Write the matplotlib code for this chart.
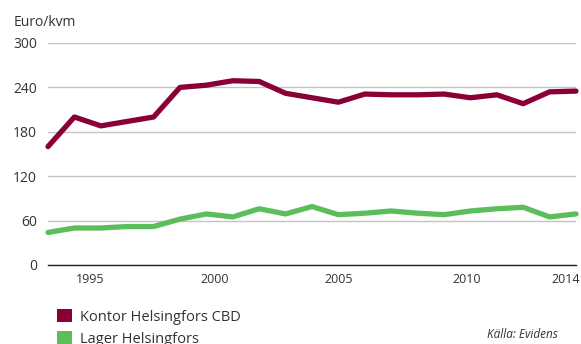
import matplotlib
matplotlib.use("Agg")
import matplotlib.pyplot as plt
from matplotlib.patches import Patch

plt.rcParams['font.family'] = ['Open Sans', 'DejaVu Sans']

# hyresnivåer, euro per kvm och år
years = list(range(1994, 2015))
kontor = [160, 200, 188, 194, 200, 240, 243, 249, 248, 232, 226, 220, 231, 230, 230, 231,
          226, 230, 218, 234, 235]
lager = [44, 50, 50, 52, 52, 62, 69, 65, 76, 69, 79, 68, 70, 73, 70, 68, 73, 76, 78, 65, 69]

series_names = ["Kontor Helsingfors CBD", "Lager Helsingfors"]
series_colors = ["#8a0036", "#5cbe5a"]

y_ticks = [0, 60, 120, 180, 240, 300]
x_labels = ["1995", "2000", "2005", "2010", "2014"]
x_label_pos = [1995.6, 2000.3, 2005.0, 2009.85, 2013.6]

txt = "#333333"

fig = plt.figure(figsize=(5.81, 3.44), dpi=100)
ax = fig.add_axes([48 / 581, 1 - 265 / 344, 528 / 581, 222 / 344])

for vals, c in zip([kontor, lager], series_colors):
    ax.plot(years, vals, color=c, lw=3.8, solid_capstyle="round",
            solid_joinstyle="round", zorder=3, clip_on=False)

ax.set_xlim(1994, 2014)
ax.set_ylim(0, 300)
ax.set_yticks(y_ticks)
ax.set_yticklabels([str(v) for v in y_ticks], fontsize=10, color=txt)
ax.yaxis.grid(True, color="#c4c4c4", lw=1.0)
ax.set_axisbelow(True)
ax.tick_params(axis="y", length=0, pad=8)

ax.set_xticks(x_label_pos)
ax.set_xticklabels(x_labels, fontsize=9, color=txt)
ax.tick_params(axis="x", length=0, pad=6)

for s in ["top", "right", "left"]:
    ax.spines[s].set_visible(False)
ax.spines["bottom"].set_color("#222222")
ax.spines["bottom"].set_linewidth(1.0)

fig.text(14 / 581, 1 - 22 / 344, "Euro/kvm", fontsize=10, color=txt,
         ha="left", va="center")

handles = [Patch(facecolor=c, edgecolor="none") for c in series_colors]
fig.legend(handles, series_names, loc="upper left",
           bbox_to_anchor=(57 / 581, 1 - 309 / 344), frameon=False,
           fontsize=10.5, labelcolor=txt, handlelength=1.0, handleheight=1.0,
           handletextpad=0.55, labelspacing=0.45, borderpad=0, borderaxespad=0)

fig.text(558 / 581, 1 - 334 / 344, "Källa: Evidens", fontsize=8.5, color=txt,
         style="italic", ha="right", va="center")

fig.savefig("out.png", dpi=100, facecolor="white")
